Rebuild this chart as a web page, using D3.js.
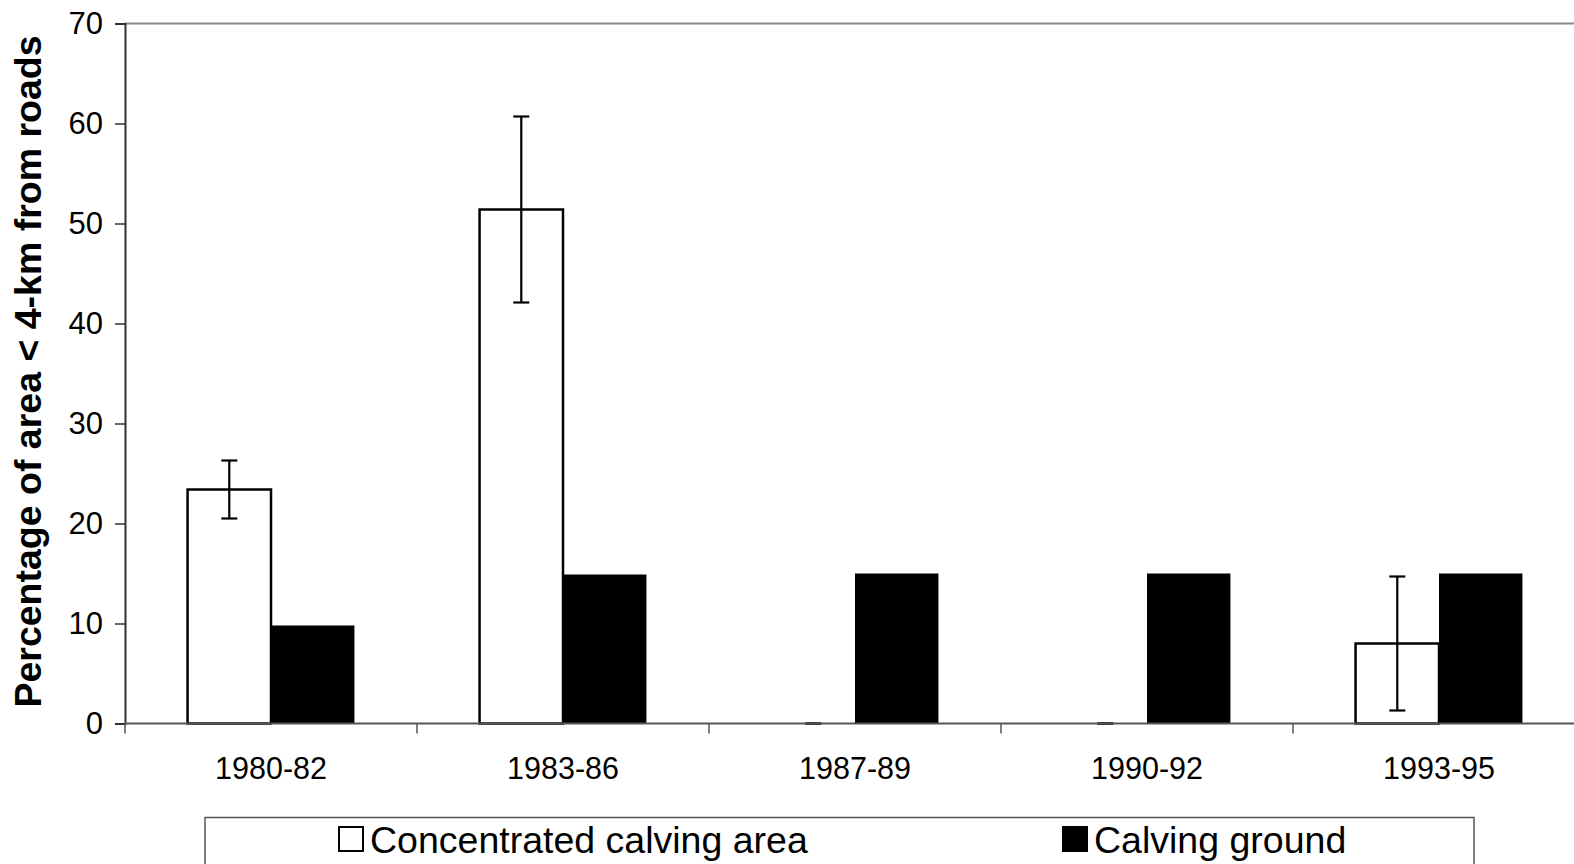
<!DOCTYPE html>
<html>
<head>
<meta charset="utf-8">
<script src="https://cdn.jsdelivr.net/npm/d3@7"></script>
<style>
  html, body { margin: 0; padding: 0; background: #fff; }
  svg { display: block; font-family: "Liberation Sans", Arial, sans-serif; }
</style>
</head>
<body>
<svg id="chart" width="1574" height="864"></svg>
<script>
// Periods on the x axis
const periods = ["1980-82", "1983-86", "1987-89", "1990-92", "1993-95"];
// Concentrated calving area: mean % of area within 4 km of roads, with error
const concentrated = [23.4, 51.4, 0, 0, 8.0];
const concentratedErr = [2.9, 9.3, 0, 0, 6.7];
// Calving ground: % of area within 4 km of roads
const calvingGround = [9.8, 14.9, 15.0, 15.0, 15.0];
// Y axis ticks
const yTicks = [0, 10, 20, 30, 40, 50, 60, 70];
const seriesNames = ["Concentrated calving area", "Calving ground"];

const svg = d3.select("#chart");
const plotLeft = 125, plotRight = 1585, plotTop = 23.5, plotBottom = 723.5;

const x = d3.scaleBand().domain(periods).range([plotLeft, plotRight]).paddingInner(0).paddingOuter(0);
const y = d3.scaleLinear().domain([0, 70]).range([plotBottom, plotTop]);

// Two bars per period, gap width of 150% of a bar
const bw = x.bandwidth() / 3.5;
const sub = d3.scaleBand().domain([0, 1]).range([0.75 * bw, 2.75 * bw]).padding(0);

// Plot area top border
svg.append("line")
  .attr("x1", plotLeft).attr("x2", plotRight).attr("y1", plotTop).attr("y2", plotTop)
  .attr("stroke", "#8a8a8a").attr("stroke-width", 2);

// Calving ground bars (black)
svg.append("g").selectAll("rect").data(calvingGround).join("rect")
  .attr("x", (d, i) => x(periods[i]) + sub(1))
  .attr("y", d => y(d))
  .attr("width", sub.bandwidth())
  .attr("height", d => y(0) - y(d))
  .attr("fill", "#000");

// Concentrated calving area bars (white, outlined)
svg.append("g").selectAll("rect").data(concentrated).join("rect")
  .attr("x", (d, i) => x(periods[i]) + sub(0))
  .attr("y", d => y(d))
  .attr("width", sub.bandwidth())
  .attr("height", d => y(0) - y(d))
  .attr("fill", d => d > 0 ? "#fff" : "none")
  .attr("stroke", "#000").attr("stroke-width", d => d > 0 ? 2.5 : 0);

// Error bars on the concentrated calving area
const capHalf = 8;
const eb = svg.append("g").attr("stroke", "#000").attr("stroke-width", 2.2);
concentrated.forEach((v, i) => {
  const cx = x(periods[i]) + sub(0) + sub.bandwidth() / 2;
  const lo = y(v - concentratedErr[i]), hi = y(v + concentratedErr[i]);
  eb.append("line").attr("x1", cx).attr("x2", cx).attr("y1", lo).attr("y2", hi);
  eb.append("line").attr("x1", cx - capHalf).attr("x2", cx + capHalf).attr("y1", hi).attr("y2", hi);
  eb.append("line").attr("x1", cx - capHalf).attr("x2", cx + capHalf).attr("y1", lo).attr("y2", lo);
});

// Y axis
const yAxis = svg.append("g").attr("transform", `translate(${plotLeft},0)`)
  .call(d3.axisLeft(y).tickValues(yTicks).tickSize(10).tickPadding(12).tickFormat(d3.format("d")));
yAxis.select(".domain").attr("stroke", "#333").attr("stroke-width", 2);
yAxis.selectAll(".tick line").attr("stroke", "#333").attr("stroke-width", 1.5);
yAxis.selectAll(".tick text").attr("font-size", 31).attr("fill", "#000")
  .attr("font-family", "'Liberation Sans', Arial, sans-serif");

// X axis with boundary ticks between periods
const xAxis = svg.append("g").attr("transform", `translate(0,${plotBottom})`);
xAxis.append("line").attr("x1", plotLeft).attr("x2", plotRight).attr("y1", 0).attr("y2", 0)
  .attr("stroke", "#555").attr("stroke-width", 2);
xAxis.selectAll("line.bound").data(periods.concat([null])).join("line")
  .attr("class", "bound")
  .attr("x1", (d, i) => plotLeft + i * x.bandwidth())
  .attr("x2", (d, i) => plotLeft + i * x.bandwidth())
  .attr("y1", 0).attr("y2", 10)
  .attr("stroke", "#555").attr("stroke-width", 1.5);
xAxis.selectAll("text").data(periods).join("text")
  .attr("x", d => x(d) + x.bandwidth() / 2)
  .attr("y", 55)
  .attr("text-anchor", "middle")
  .attr("font-size", 30.5)
  .text(d => d);

// Y axis title
svg.append("text")
  .attr("transform", `translate(41,${(plotTop + plotBottom) / 2 - 2}) rotate(-90)`)
  .attr("text-anchor", "middle")
  .attr("font-size", 37.5).attr("font-weight", "bold")
  .text("Percentage of area < 4-km from roads");

// Legend
const lg = svg.append("g");
lg.append("rect").attr("x", 205).attr("y", 817.5).attr("width", 1269).attr("height", 60)
  .attr("fill", "#fff").attr("stroke", "#555").attr("stroke-width", 1.5);
const legendItems = [
  { name: seriesNames[0], sx: 339, tx: 370, fill: "#fff" },
  { name: seriesNames[1], sx: 1063, tx: 1094, fill: "#000" }
];
legendItems.forEach(it => {
  lg.append("rect").attr("x", it.sx).attr("y", 827).attr("width", 24).attr("height", 24)
    .attr("fill", it.fill).attr("stroke", "#000").attr("stroke-width", 2);
  lg.append("text").attr("x", it.tx).attr("y", 853).attr("font-size", 37.5).text(it.name);
});
</script>
</body>
</html>
